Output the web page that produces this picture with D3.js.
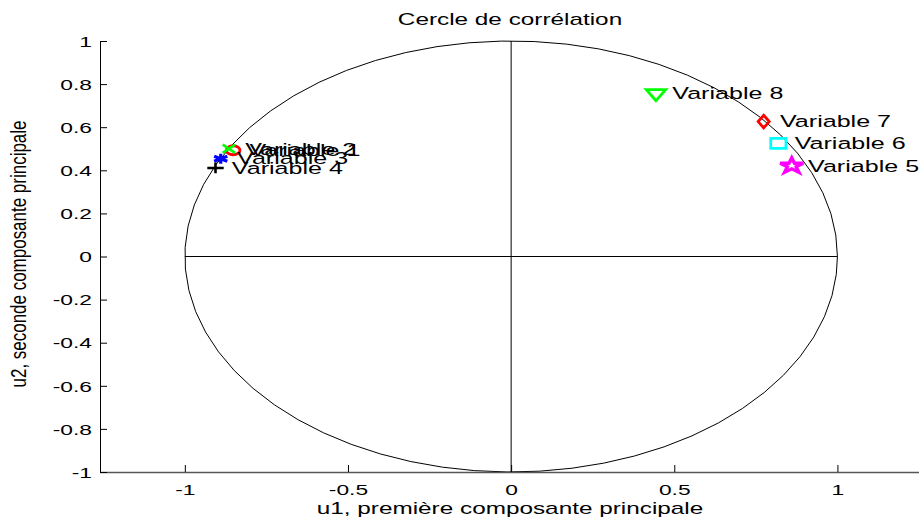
<!DOCTYPE html>
<html>
<head>
<meta charset="utf-8">
<script src="https://cdn.jsdelivr.net/npm/d3@7"></script>
<style>
  body { margin: 0; background: #fff; }
  svg { display: block; font-family: "Liberation Sans", Arial, sans-serif; }
</style>
</head>
<body>
<svg id="chart"></svg>
<script>
// values
let names = ['Variable 1', 'Variable 2', 'Variable 3', 'Variable 4',
             'Variable 5', 'Variable 6', 'Variable 7', 'Variable 8'];
let u1 = [-0.852, -0.865, -0.890, -0.906, 0.860, 0.819, 0.774, 0.444];
let u2 = [0.493, 0.500, 0.454, 0.411, 0.421, 0.525, 0.626, 0.757];
let markerColors = ['#ff0000', '#00ff00', '#0000ff', '#000000',
                    '#ff00ff', '#00ffff', '#ff0000', '#00ff00'];
let markerKinds = ['circle', 'times', 'asterisk', 'plus', 'star', 'square', 'diamond', 'triangleDown'];

let xTicks = [-1, -0.5, 0, 0.5, 1];
let xTickLabels = ['-1', '-0.5', '0', '0.5', '1'];
let yTicks = [-1, -0.8, -0.6, -0.4, -0.2, 0, 0.2, 0.4, 0.6, 0.8, 1];
let yTickLabels = ['-1', '-0.8', '-0.6', '-0.4', '-0.2', '0', '0.2', '0.4', '0.6', '0.8', '1'];

let title = 'Cercle de corrélation';
let xLabel = 'u1, première composante principale';
let yLabel = 'u2, seconde composante principale';

function translate(x, y) {
    return `translate(${x},${y})`;
}

let width = 919, height = 517;
let plotLeft = 100, plotRight = 919, plotTop = 41, plotBottom = 472;
let stretch = 1.52;   // the source figure is wider than tall

let svg = d3.select('#chart')
    .attr('width', width)
    .attr('height', height);

svg.append('rect').attr('width', width).attr('height', height).attr('fill', '#fff');

let x = d3.scaleLinear().domain([-1.26, 1.25]).range([plotLeft, plotRight]);
let y = d3.scaleLinear().domain([-1, 1]).range([plotBottom, plotTop]);

// unit circle (coarse polygon like the original)
let t = d3.range(0, 2 * Math.PI, 0.1);
t.push(0);
let circle = d3.line()
    .x(a => x(Math.cos(a)))
    .y(a => y(Math.sin(a)));

svg.append('path')
    .attr('d', circle(t))
    .attr('fill', 'none')
    .attr('stroke', '#000')
    .attr('stroke-width', 1);

// cross lines
svg.append('line')
    .attr('x1', x(-1)).attr('x2', x(1))
    .attr('y1', y(0)).attr('y2', y(0))
    .attr('stroke', '#000');
svg.append('line')
    .attr('x1', x(0)).attr('x2', x(0))
    .attr('y1', y(-1)).attr('y2', y(1))
    .attr('stroke', '#000');

// axes
let xAxis = d3.axisBottom(x)
    .tickValues(xTicks)
    .tickFormat((d, i) => xTickLabels[i])
    .tickSizeInner(-7)
    .tickSizeOuter(0);

let gx = svg.append('g')
    .attr('transform', translate(0, plotBottom))
    .call(xAxis);
gx.select('.domain').attr('stroke', '#555').attr('stroke-width', 1.6);
gx.selectAll('.tick line').attr('stroke', '#000');
gx.selectAll('.tick text')
    .attr('y', 18)
    .attr('dy', '0.35em')
    .attr('transform', `scale(${stretch},1)`)
    .style('font-size', '15px')
    .attr('fill', '#000')
    .attr('font-family', null);

let yAxis = d3.axisLeft(y)
    .tickValues(yTicks)
    .tickFormat((d, i) => yTickLabels[i])
    .tickSizeInner(-7)
    .tickSizeOuter(0);

let gy = svg.append('g')
    .attr('transform', translate(plotLeft, 0))
    .call(yAxis);
gy.select('.domain').attr('stroke', '#000');
gy.selectAll('.tick line').attr('stroke', '#000');
gy.selectAll('.tick text')
    .attr('x', -8 / stretch)
    .attr('dy', '0.35em')
    .attr('transform', `scale(${stretch},1)`)
    .style('font-size', '15px')
    .attr('fill', '#000')
    .attr('font-family', null);

// markers
let symbolFor = {
    circle: [d3.symbolCircle, 64, 0, 2.8],
    times: [d3.symbolTimes || d3.symbolX, 45, 0, 2.6],
    asterisk: [d3.symbolAsterisk || d3.symbolCross, 70, 0, 3.2],
    plus: [d3.symbolPlus || d3.symbolCross, 40, 0, 2.6],
    star: [d3.symbolStar, 72, 0, 3.4],
    square: [d3.symbolSquare, 100, 0, 2.8],
    diamond: [d3.symbolDiamond, 46, 0, 2.8],
    triangleDown: [d3.symbolTriangle, 70, 180, 2.8]
};

let points = names.map((n, i) => ({name: n, u1: u1[i], u2: u2[i], color: markerColors[i], kind: markerKinds[i]}));

let pg = svg.append('g').attr('class', 'points');

let item = pg.selectAll('g')
    .data(points)
    .enter()
    .append('g');

item.append('path')
    .attr('transform', d => translate(x(d.u1), y(d.u2)) + ` scale(${stretch},1) rotate(${symbolFor[d.kind][2]})`)
    .attr('d', d => d3.symbol(symbolFor[d.kind][0], symbolFor[d.kind][1])())
    .attr('fill', 'none')
    .attr('stroke', d => d.color)
    .attr('stroke-width', d => symbolFor[d.kind][3])
    .attr('stroke-linejoin', 'miter')
    .attr('vector-effect', 'non-scaling-stroke');

item.append('text')
    .attr('transform', d => translate(x(d.u1 + 0.05), y(d.u2)) + ` scale(${stretch},1)`)
    .attr('dy', '0.35em')
    .style('font-size', '16.5px')
    .attr('fill', '#000')
    .text(d => d.name);

// titles
svg.append('text')
    .attr('transform', translate(510, 19) + ` scale(${stretch},1)`)
    .attr('text-anchor', 'middle')
    .attr('dy', '0.35em')
    .style('font-size', '16px')
    .text(title);

svg.append('text')
    .attr('transform', translate(510, 508) + ` scale(${stretch},1)`)
    .attr('text-anchor', 'middle')
    .attr('dy', '0.35em')
    .style('font-size', '16px')
    .text(xLabel);

svg.append('text')
    .attr('transform', translate(18, 254) + ` rotate(-90) scale(1,${stretch})`)
    .attr('text-anchor', 'middle')
    .attr('dy', '0.35em')
    .style('font-size', '15px')
    .attr('textLength', 267)
    .attr('lengthAdjust', 'spacingAndGlyphs')
    .text(yLabel);
</script>
</body>
</html>
